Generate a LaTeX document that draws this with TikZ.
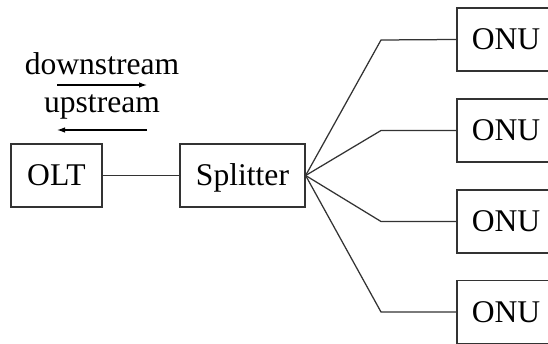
\documentclass[tikz,border=0pt]{standalone}
\usepackage{fontspec}
\setmainfont{Liberation Serif}
\usetikzlibrary{arrows.meta}
\begin{document}
\begin{tikzpicture}[x=1pt,y=-1pt,
  every node/.style={font=\fontsize{31.6}{36}\selectfont, inner sep=0pt},
  unit/.style={draw=black!80, line width=1.25pt, minimum height=63pt,
    text height=21pt, text depth=0pt},
  link/.style={draw=black!80, line width=1.25pt},
  flow/.style={draw=black, line width=1.2pt, -{Latex[length=8pt,width=5.5pt]}}]
\clip (0,0) rectangle (548,344);
\fill[white] (0,0) rectangle (548,344);

% head end and branch units
\node[unit, minimum width=91pt] (olt) at (56.5,175.5) {OLT};
\node[unit, minimum width=125pt] (spl) at (242.5,175.5) {Splitter};
\node[unit, minimum width=98pt] (onu1) at (506,39.5) {ONU};
\node[unit, minimum width=98pt] (onu2) at (506,130.5) {ONU};
\node[unit, minimum width=98pt] (onu3) at (506,221.5) {ONU};
\node[unit, minimum width=98pt] (onu4) at (506,312) {ONU};

% fibre links
\draw[link] (olt) -- (spl);
\coordinate (b1) at (381,40);
\coordinate (b2) at (381,130.5);
\coordinate (b3) at (381,221.5);
\coordinate (b4) at (381,312);
\draw[link] (spl.east) -- (b1) -- (onu1.west);
\draw[link] (spl.east) -- (b2) -- (onu2.west);
\draw[link] (spl.east) -- (b3) -- (onu3.west);
\draw[link] (spl.east) -- (b4) -- (onu4.west);

% traffic direction labels
\node[anchor=base] (down) at (102,75) {downstream};
\node[anchor=base] (up) at (102,113) {upstream};
\coordinate (dl) at (57,85);
\coordinate (dr) at (147,85);
\coordinate (ul) at (57,130);
\coordinate (ur) at (147,130);
\draw[flow] (dl) -- (dr);
\draw[flow] (ur) -- (ul);
\end{tikzpicture}
\end{document}
